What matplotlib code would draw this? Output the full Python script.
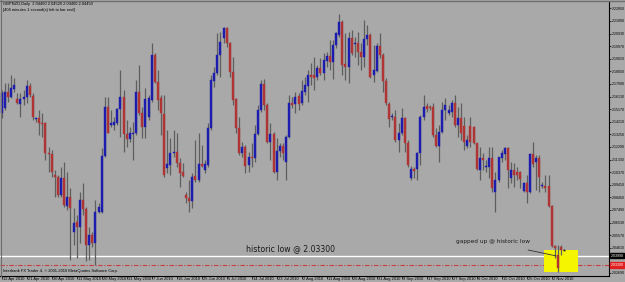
import matplotlib
matplotlib.use("Agg")
import matplotlib.pyplot as plt
from matplotlib.patches import Rectangle
import numpy as np

# ---- data (GBPNZD daily candles) ----
opens = [2.1486,2.1524,2.1650,2.1612,2.1669,2.1592,2.1557,2.1592,2.1612,2.1694,
         2.1617,2.1442,2.1452,2.1414,2.1409,2.1185,2.1175,2.1016,2.1003,2.0863,
         2.0990,2.0782,2.0846,2.0583,2.0660,2.0617,2.0825,2.0754,2.0482,2.0558,
         2.0495,2.0736,2.0736,2.1163,2.1536,2.1397,2.1397,2.1409,2.1518,2.1612,
         2.1328,2.1288,2.1330,2.1338,2.1650,2.1490,2.1384,2.1460,2.1587,2.1930,
         2.1726,2.1600,2.1480,2.1067,2.1092,2.1181,2.1193,2.1105,2.1036,2.0863,
         2.0838,2.0820,2.1008,2.0977,2.1099,2.1054,2.1092,2.1371,2.1734,2.1795,
         2.1930,2.2057,2.2133,2.2019,2.1803,2.1592,2.1371,2.1181,2.1231,2.1092,
         2.1155,2.1143,2.1328,2.1511,2.1709,2.1549,2.1269,2.1328,2.1041,2.1201,
         2.1236,2.1117,2.1303,2.1566,2.1557,2.1617,2.1562,2.1650,2.1694,2.1778,
         2.1778,2.1765,2.1829,2.1795,2.1886,2.1922,2.1879,2.2006,2.2082,2.2184,
         2.1861,2.1841,2.2057,2.2014,2.2019,2.1955,2.1917,2.2050,2.2082,2.1778,
         2.1810,2.1998,2.1930,2.1734,2.1557,2.1455,2.1455,2.1282,2.1333,2.1448,
         2.1262,2.0990,2.1059,2.1059,2.1181,2.1455,2.1541,2.1531,2.1531,2.1320,
         2.1236,2.1345,2.1511,2.1486,2.1498,2.1562,2.1397,2.1448,2.1389,2.1236,
         2.1389,2.1384,2.1262,2.1054,2.1143,2.1074,2.1079,2.1143,2.0888,2.0977,
         2.1143,2.1175,2.1219,2.0990,2.1054,2.1041,2.1041,2.0896,2.0952,2.0888,
         2.1175,2.1117,2.1147,2.0932,2.0932,2.0932,2.0779,2.0474,2.0406,2.0469,
         2.0446]
highs = [2.1663,2.1714,2.1714,2.1778,2.1752,2.1638,2.1638,2.1663,2.1739,2.1719,
         2.1638,2.1460,2.1511,2.1486,2.1422,2.1227,2.1206,2.1054,2.1016,2.1079,
         2.1117,2.1041,2.0914,2.0762,2.0711,2.0888,2.0952,2.0774,2.0622,2.0583,
         2.0825,2.0800,2.1219,2.1612,2.1612,2.1511,2.1460,2.1524,2.1816,2.1663,
         2.1435,2.1384,2.1422,2.1739,2.1854,2.1536,2.1676,2.1625,2.2019,2.1943,
         2.1816,2.1625,2.1625,2.1358,2.1295,2.1358,2.1333,2.1143,2.1105,2.0888,
         2.0977,2.1028,2.1282,2.1333,2.1244,2.1130,2.1409,2.1778,2.1841,2.2095,
         2.2107,2.2146,2.2140,2.2031,2.1917,2.1600,2.1460,2.1269,2.1244,2.1193,
         2.1257,2.1397,2.1549,2.1739,2.1745,2.1562,2.1409,2.1345,2.1295,2.1257,
         2.1257,2.1320,2.1625,2.1612,2.1650,2.1638,2.1739,2.1765,2.1816,2.1867,
         2.1917,2.1854,2.1905,2.1943,2.1955,2.2044,2.2044,2.2107,2.2242,2.2197,
         2.2095,2.2107,2.2120,2.2069,2.2107,2.2019,2.2197,2.2158,2.2095,2.2006,
         2.2019,2.2095,2.1943,2.1752,2.1574,2.1486,2.1511,2.1409,2.1524,2.1460,
         2.1282,2.1084,2.1079,2.1193,2.1473,2.1625,2.1562,2.1549,2.1562,2.1374,
         2.1397,2.1574,2.1600,2.1549,2.1587,2.1625,2.1536,2.1562,2.1460,2.1320,
         2.1460,2.1390,2.1262,2.1231,2.1181,2.1130,2.1231,2.1231,2.1041,2.1155,
         2.1206,2.1231,2.1227,2.1117,2.1105,2.1079,2.1048,2.0964,2.1016,2.1181,
         2.1269,2.1168,2.1168,2.0964,2.1016,2.1016,2.0787,2.0482,2.0482,2.0482,
         2.0452]
lows = [2.1448,2.1511,2.1574,2.1600,2.1650,2.1560,2.1460,2.1549,2.1562,2.1612,
        2.1435,2.1422,2.1320,2.1307,2.1130,2.1041,2.1003,2.0850,2.0850,2.0850,
        2.0774,2.0749,2.0368,2.0482,2.0383,2.0497,2.0711,2.0362,2.0368,2.0469,
        2.0330,2.0724,2.0724,2.1155,2.1333,2.1384,2.1358,2.1397,2.1307,2.1193,
        2.1231,2.1269,2.1130,2.1320,2.1473,2.1295,2.1295,2.1435,2.1574,2.1714,
        2.1511,2.1320,2.1003,2.1028,2.1016,2.1155,2.1079,2.0926,2.1003,2.0800,
        2.0736,2.0762,2.0964,2.0964,2.1079,2.1028,2.1079,2.1358,2.1688,2.1778,
        2.1765,2.2019,2.1993,2.1765,2.1549,2.1333,2.1168,2.1155,2.1028,2.1041,
        2.1079,2.1117,2.1320,2.1498,2.1511,2.1257,2.1130,2.1028,2.0977,2.1155,
        2.1130,2.0977,2.1295,2.1524,2.1486,2.1511,2.1549,2.1625,2.1574,2.1701,
        2.1663,2.1739,2.1778,2.1739,2.1841,2.1816,2.1745,2.1981,2.2069,2.1778,
        2.1739,2.1719,2.1930,2.1917,2.1854,2.1816,2.1841,2.2006,2.1752,2.1726,
        2.1803,2.1905,2.1650,2.1549,2.1384,2.1435,2.1269,2.1193,2.1320,2.1193,
        2.1079,2.0977,2.0990,2.0977,2.1092,2.1435,2.1498,2.1511,2.1307,2.1231,
        2.1117,2.1333,2.1435,2.1473,2.1460,2.1384,2.1307,2.1282,2.1206,2.1219,
        2.1227,2.1255,2.1054,2.0977,2.1054,2.1041,2.0990,2.0888,2.0736,2.0964,
        2.1117,2.1130,2.0914,2.0952,2.0926,2.0977,2.0914,2.0888,2.0800,2.0876,
        2.1079,2.0901,2.0888,2.0914,2.0888,2.0774,2.0469,2.0383,2.0276,2.0406,
        2.0440]
closes = [2.1638,2.1650,2.1612,2.1676,2.1701,2.1562,2.1592,2.1612,2.1694,2.1625,
          2.1460,2.1448,2.1409,2.1404,2.1185,2.1173,2.1041,2.1003,2.0863,2.0995,
          2.0787,2.0846,2.0762,2.0652,2.0617,2.0825,2.0754,2.0482,2.0558,2.0495,
          2.0736,2.0769,2.1163,2.1536,2.1338,2.1409,2.1422,2.1518,2.1612,2.1328,
          2.1288,2.1338,2.1338,2.1650,2.1486,2.1384,2.1592,2.1600,2.1930,2.1726,
          2.1587,2.1486,2.1016,2.1099,2.1181,2.1193,2.1105,2.1033,2.1010,2.0838,
          2.0820,2.1003,2.0977,2.1099,2.1084,2.1099,2.1371,2.1739,2.1795,2.1930,
          2.2031,2.2133,2.2019,2.1803,2.1587,2.1371,2.1181,2.1231,2.1084,2.1155,
          2.1143,2.1328,2.1511,2.1709,2.1549,2.1269,2.1328,2.1041,2.1201,2.1236,
          2.1181,2.1303,2.1562,2.1549,2.1612,2.1557,2.1658,2.1701,2.1778,2.1765,
          2.1752,2.1829,2.1795,2.1892,2.1922,2.1879,2.2006,2.2095,2.2184,2.1854,
          2.1841,2.2057,2.1943,2.2024,2.1955,2.1917,2.2050,2.2082,2.1765,2.1816,
          2.1998,2.1930,2.1734,2.1562,2.1440,2.1465,2.1282,2.1333,2.1448,2.1262,
          2.1092,2.1059,2.1048,2.1181,2.1455,2.1536,2.1516,2.1524,2.1320,2.1236,
          2.1345,2.1511,2.1549,2.1511,2.1562,2.1397,2.1448,2.1333,2.1269,2.1282,
          2.1269,2.1262,2.1059,2.1143,2.1130,2.1084,2.1143,2.0914,2.0977,2.1150,
          2.1185,2.1219,2.1054,2.1054,2.1016,2.1016,2.0983,2.0952,2.0888,2.1175,
          2.1099,2.1147,2.1003,2.0939,2.0914,2.0779,2.0474,2.0460,2.0307,2.0444,
          2.0445]

date_labels = ["12 Apr 2010","21 Apr 2010","30 Apr 2010","11 May 2010","20 May 2010",
               "31 May 2010","7 Jun 2010","16 Jun 2010","25 Jun 2010","5 Jul 2010",
               "14 Jul 2010","23 Jul 2010","2 Aug 2010","11 Aug 2010","20 Aug 2010",
               "31 Aug 2010","9 Sep 2010","17 Sep 2010","27 Sep 2010","6 Oct 2010",
               "15 Oct 2010","25 Oct 2010","2 Nov 2010"]
price_ticks = [2.02690] + [2.04610 + 0.00960 * k for k in range(20)]
historic_low = 2.03300
hline_level = 2.03990

# ---- layout ----
W, H = 625, 282
BG = "#A9A9A9"
BULL = "#1C1CAE"
BEAR = "#B03434"
WICK = "#5E5E5E"
SMALL = dict(family="Liberation Sans", fontsize=2.9, color="black")
AXIS = dict(family="Liberation Sans", fontsize=2.6, color="black")

fig = plt.figure(figsize=(W / 100, H / 100), dpi=100, facecolor=BG)
px_l, px_r, px_t, px_b = 0, 609, 1, 275.5
ax = fig.add_axes([px_l / W, 1 - px_b / H, (px_r - px_l) / W, (px_b - px_t) / H])
ax.set_facecolor(BG)

n = len(opens)
x = np.arange(n)
o = np.array(opens); c = np.array(closes); hi = np.array(highs); lo = np.array(lows)
up = c >= o

ax.vlines(x, lo, hi, color=WICK, lw=0.9, zorder=4)
bottoms = np.minimum(o, c)
heights = np.maximum(np.abs(c - o), 0.00025)
cols = np.where(up, BULL, BEAR)
ax.bar(x, heights, bottom=bottoms, width=0.62, color=cols, edgecolor=cols, lw=0.3, zorder=5)
doji = np.abs(c - o) < 0.0003
ax.hlines(c[doji], x[doji] - 0.35, x[doji] + 0.35, color="#202020", lw=0.9, zorder=6)

# horizontal lines
ax.axhline(hline_level, color="white", lw=1.0, zorder=1)
ax.axhline(historic_low, color="#C83C3C", lw=0.8, ls=(0, (4, 1.5, 1, 1.5)), zorder=1)

# yellow rectangle
ax.add_patch(Rectangle((173.5, 2.0276), 10.9, 2.0444 - 2.0276, facecolor="#F5F500",
                       edgecolor="none", zorder=2))

# annotations
ax.text(78.3, 2.0456, "historic low @ 2.03300", fontsize=5.6, color="#1A1A1A",
        ha="left", va="center", zorder=7)
ax.text(145.5, 2.0510, "gapped up @ historic low", fontsize=4.15, color="#1A1A1A",
        ha="left", va="center", zorder=7)
ax.plot([168.5, 177.4], [2.0444, 2.0399], color="#303030", lw=0.6, zorder=7)

ax.set_xlim((px_l - 1.7) / 3.125, (px_r - 1.7) / 3.125)
ax.set_ylim(2.2349 - 0.000762 * px_b, 2.2349 - 0.000762 * px_t)

# axes styling (MT4-like)
for s in ("top", "left"):
    ax.spines[s].set_visible(False)
ax.spines["right"].set_color("black"); ax.spines["right"].set_linewidth(0.8)
ax.spines["bottom"].set_color("black"); ax.spines["bottom"].set_linewidth(0.8)
ax.yaxis.tick_right()
ax.set_yticks(price_ticks)
ax.set_yticklabels([f"{v:.5f}" for v in price_ticks], **AXIS)
ax.tick_params(axis="y", length=1.2, width=0.5, pad=0.6)
ax.set_xticks(np.arange(0, 8 * len(date_labels), 8))
ax.set_xticklabels([])
ax.tick_params(axis="x", length=2, width=0.5)
for i, lab in enumerate(date_labels):
    ax.text(i * 8 + 0.3, -0.005, lab, transform=ax.get_xaxis_transform(),
            ha="left", va="top", **SMALL)

# price boxes on the right axis
ax.text(1.003, hline_level, "2.03990", transform=ax.get_yaxis_transform(),
        ha="left", va="center", family="Liberation Sans", fontsize=2.6, color="white",
        bbox=dict(boxstyle="square,pad=0.15", fc="black", ec="black"))
ax.text(1.003, historic_low, "2.03300", transform=ax.get_yaxis_transform(),
        ha="left", va="center", family="Liberation Sans", fontsize=2.6, color="white",
        bbox=dict(boxstyle="square,pad=0.15", fc="#E02020", ec="#E02020"))

# header & footer text
fig.text(3 / W, 1 - 4.5 / H, "GBPNZD,Daily  2.04460 2.04520 2.04400 2.04450",
         ha="left", va="center", **SMALL)
fig.text(3 / W, 1 - 9.5 / H, "[404 minutes 1 second(s) left to bar end]",
         ha="left", va="center", **SMALL)
fig.text(3 / W, 1 - 271 / H, "Interbank FX Trader 4, \u00a9 2001-2010 MetaQuotes Software Corp.",
         ha="left", va="center", **SMALL)

# frame lines
fig.add_artist(plt.Line2D([0, 1], [1 - 0.5 / H, 1 - 0.5 / H], color="#6E6E6E", lw=1))
fig.add_artist(plt.Line2D([1 / W, 1 / W], [1 - px_b / H, 1], color="#6E6E6E", lw=0.8))

fig.savefig("out.png", dpi=100, facecolor=BG)
